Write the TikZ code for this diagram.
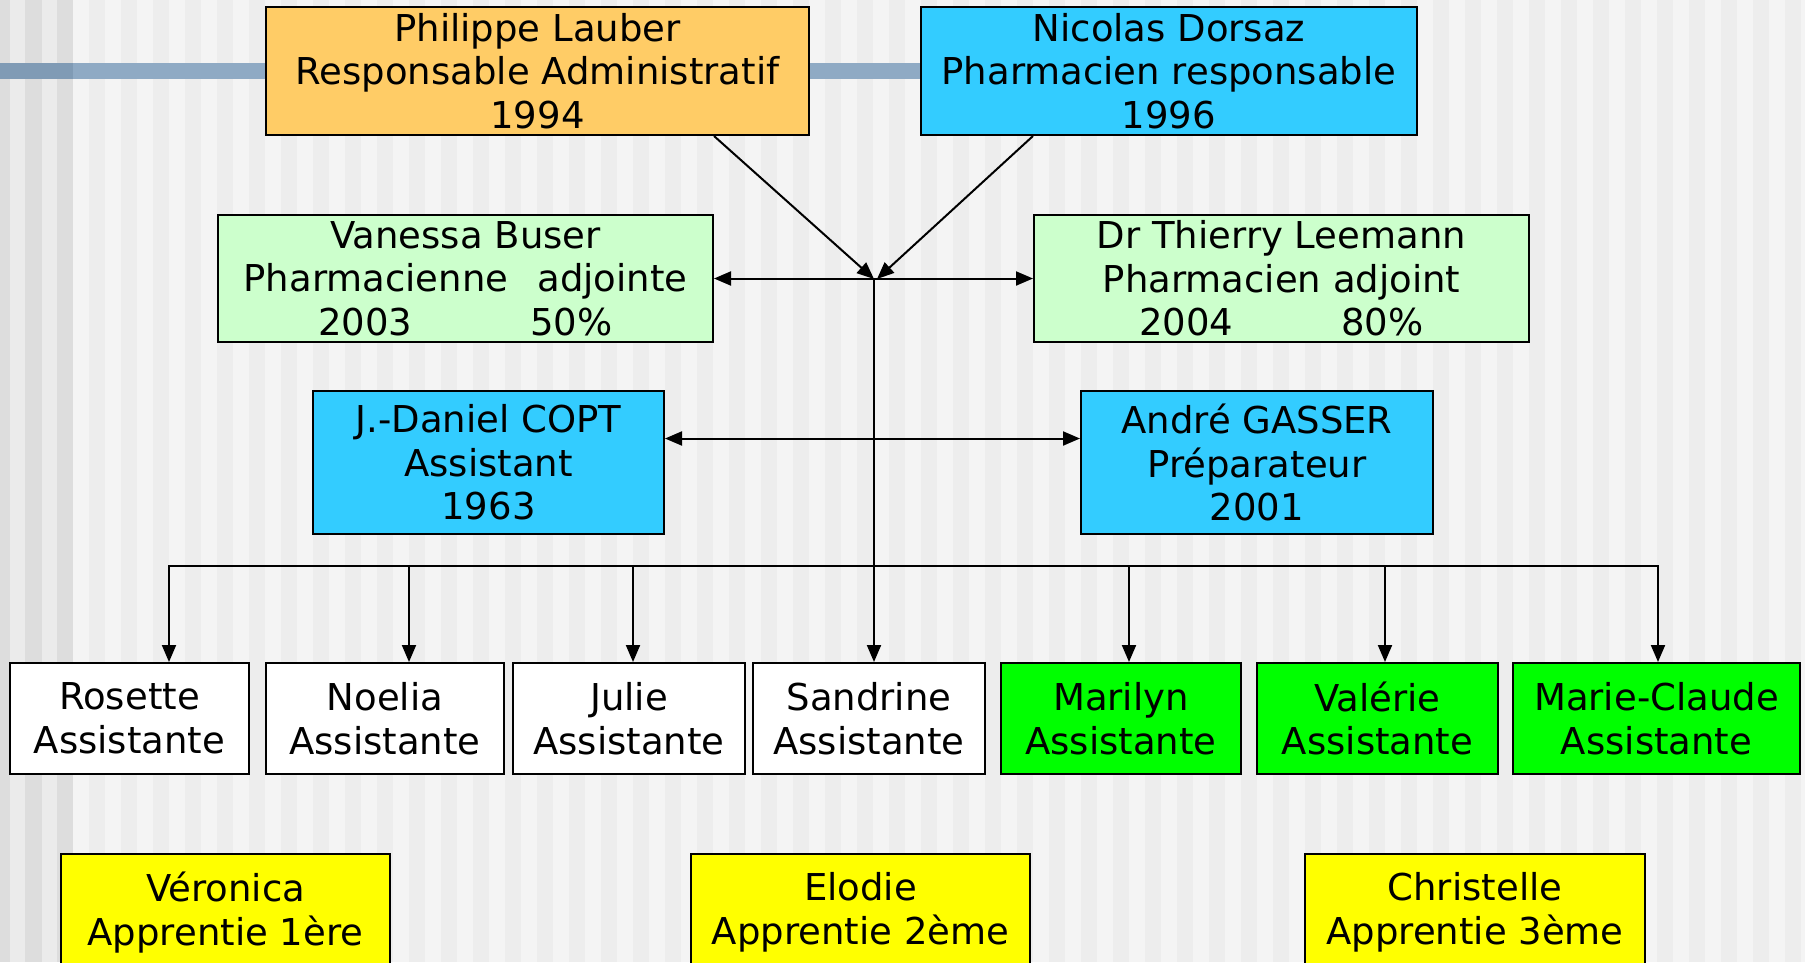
\documentclass[tikz,border=0pt]{standalone}
\usepackage{fontspec}
\setmainfont{DejaVu Sans}
\usetikzlibrary{arrows.meta}
\definecolor{bgA}{HTML}{F4F4F4}
\definecolor{bgB}{HTML}{EDEDED}
\definecolor{bgC}{HTML}{DDDDDD}
\definecolor{bgD}{HTML}{EBEBEB}
\definecolor{barA}{HTML}{8FAAC4}
\definecolor{barB}{HTML}{809BB5}
\definecolor{orangeF}{HTML}{FFCC66}
\definecolor{cyanF}{HTML}{33CCFF}
\definecolor{mintF}{HTML}{CCFFCC}
\definecolor{greenF}{HTML}{00FF00}
\definecolor{yellowF}{HTML}{FFFF00}
\begin{document}
\begin{tikzpicture}[x=1pt,y=-1pt,
  box/.style={draw=black, line width=2pt, inner sep=0pt, align=center,
    font=\fontsize{37}{43.5}\selectfont, text=black},
  conn/.style={line width=2pt, draw=black},
  arr/.style={conn, -{Triangle[length=17pt,width=14pt]}},
  darr/.style={conn, {Triangle[length=17pt,width=14pt]}-{Triangle[length=17pt,width=14pt]}},
]
\clip (0,0) rectangle (1805,962);
% background stripes
\fill[bgA] (0,0) rectangle (1805,962);
\foreach \i in {0,...,54} \fill[bgB] ({89+32*\i},0) rectangle ++(16,962);
\fill[bgD] (0,0) rectangle (73,962);
\foreach \a/\b in {0/10,25/42,57/73} \fill[bgC] (\a,0) rectangle (\b,962);
% blue bar
\fill[barB] (0,63) rectangle (73,79);
\fill[barA] (73,63) rectangle (921,79);

% top row
\node[box, fill=orangeF, minimum width=543pt, minimum height=128pt] (lauber) at (537.5,71)
  {Philippe Lauber\\Responsable Administratif\\1994};
\node[box, fill=cyanF, minimum width=496pt, minimum height=128pt] (dorsaz) at (1169,71)
  {Nicolas Dorsaz\\Pharmacien responsable\\1996};
% adjoints
\node[box, fill=mintF, minimum width=495pt, minimum height=127pt] (buser) at (465.5,278.5)
  {Vanessa Buser\\Pharmacienne\hspace{29pt}adjointe\\2003\hspace{118pt}50\%};
\node[box, fill=mintF, minimum width=495pt, minimum height=127pt] (leemann) at (1281.5,278.5)
  {Dr Thierry Leemann\\Pharmacien adjoint\\2004\hspace{108pt}80\%};
% assistant / preparateur
\node[box, fill=cyanF, minimum width=351pt, minimum height=143pt] (copt) at (488.5,462.5)
  {J.-Daniel COPT\\Assistant\\1963};
\node[box, fill=cyanF, minimum width=352pt, minimum height=143pt] (gasser) at (1257,462.5)
  {André GASSER\\Préparateur\\2001};
% assistantes
\node[box, fill=white, minimum width=239pt, minimum height=111pt] (rosette) at (129.5,718.5)
  {Rosette\\Assistante};
\node[box, fill=white, minimum width=238pt, minimum height=111pt] (noelia) at (385,718.5)
  {Noelia\\Assistante};
\node[box, fill=white, minimum width=232pt, minimum height=111pt] (julie) at (629,718.5)
  {Julie\\Assistante};
\node[box, fill=white, minimum width=232pt, minimum height=111pt] (sandrine) at (869,718.5)
  {Sandrine\\Assistante};
\node[box, fill=greenF, minimum width=240pt, minimum height=111pt] (marilyn) at (1121,718.5)
  {Marilyn\\Assistante};
\node[box, fill=greenF, minimum width=241pt, minimum height=111pt] (valerie) at (1377.5,718.5)
  {Valérie\\Assistante};
\node[box, fill=greenF, minimum width=287pt, minimum height=111pt] (marieclaude) at (1656.5,718.5)
  {Marie-Claude\\Assistante};
% apprenties
\node[box, fill=yellowF, minimum width=329pt, minimum height=117pt] (veronica) at (225.5,912.5)
  {Véronica\\Apprentie 1ère};
\node[box, fill=yellowF, minimum width=339pt, minimum height=117pt] (elodie) at (860.5,912.5)
  {Elodie\\Apprentie 2ème};
\node[box, fill=yellowF, minimum width=340pt, minimum height=117pt] (christelle) at (1475,912.5)
  {Christelle\\Apprentie 3ème};

% connectors
\coordinate (jn) at (874,279);
\draw[arr] ([xshift=176.5pt]lauber.south) -- (jn);
\draw[arr] ([xshift=-136pt]dorsaz.south) -- ([xshift=3pt]jn);
\draw[darr] (buser.east) -- (leemann.west);
\draw[arr] (jn) -- (jn |- sandrine.north);
\draw[darr] ([yshift=24pt]copt.east) -- ([yshift=24pt]gasser.west);

\coordinate (b1) at (169,566);
\coordinate (b2) at (409,566);
\coordinate (b3) at (633,566);
\coordinate (b5) at (1129,566);
\coordinate (b6) at (1385,566);
\coordinate (b7) at (1658,566);
\draw[conn, line cap=rect] (b1) -- (b7);
\draw[arr] (b1) -- (b1 |- rosette.north);
\draw[arr] (b2) -- (b2 |- noelia.north);
\draw[arr] (b3) -- (b3 |- julie.north);
\draw[arr] (b5) -- (b5 |- marilyn.north);
\draw[arr] (b6) -- (b6 |- valerie.north);
\draw[arr] (b7) -- (b7 |- marieclaude.north);
\end{tikzpicture}
\end{document}
